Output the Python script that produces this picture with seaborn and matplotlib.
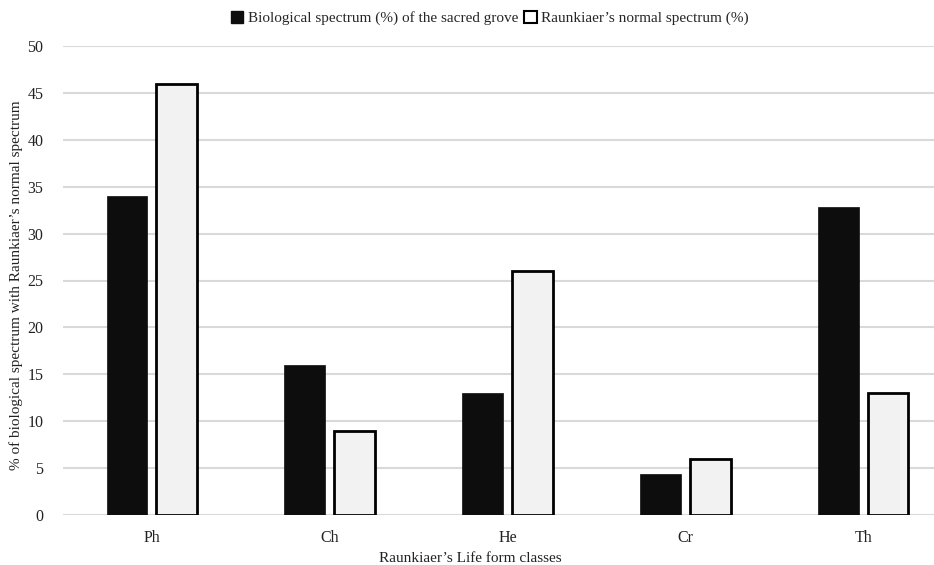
import matplotlib
matplotlib.use("Agg")
import pandas as pd
from matplotlib import pyplot as plt
from matplotlib.patches import Patch
import seaborn as sns

classes = ["Ph", "Ch", "He", "Cr", "Th"]
grove = [34.0, 16.0, 13.0, 4.4, 32.8]
normal = [46.0, 9.0, 26.0, 6.0, 13.0]
series = ["Biological spectrum (%) of the sacred grove", "Raunkiaer\u2019s normal spectrum (%)"]
yticks = [0, 5, 10, 15, 20, 25, 30, 35, 40, 45, 50]

df = pd.DataFrame({
    "cls": classes * 2,
    "val": grove + normal,
    "series": [series[0]] * len(classes) + [series[1]] * len(classes),
})

sns.set_style("white")
plt.rcParams["font.family"] = ["Liberation Serif", "DejaVu Serif"]

fig = plt.figure(figsize=(9.34, 5.65), dpi=100)
ax = fig.add_axes([63 / 934, 50 / 565, (952 - 63) / 934, (515 - 46) / 565])

sns.barplot(data=df, x="cls", y="val", hue="series", order=classes, hue_order=series,
            palette=["#0d0d0d", "#f2f2f2"], width=0.56, gap=0.18, ax=ax, legend=False)

# black edge on the light bars only
for patch in ax.containers[1]:
    patch.set_edgecolor("black")
    patch.set_linewidth(2)
for patch in ax.containers[0]:
    patch.set_edgecolor("#0d0d0d")
    patch.set_linewidth(0.5)

ax.set_ylim(0, 50)
ax.set_yticks(yticks)
ax.set_xlim(-0.5, len(classes) - 0.5)
ax.yaxis.grid(True, color="#d9d9d9", linewidth=1.5)
ax.set_axisbelow(True)
for s in ax.spines.values():
    s.set_visible(False)
ax.tick_params(axis="both", length=0, labelsize=11.5, colors="#222222")
ax.tick_params(axis="y", pad=14)
ax.tick_params(axis="x", pad=11)

ax.set_xlabel("")
ax.set_ylabel("")
fig.text(0.0175, (565 - 285) / 565, "% of biological spectrum with Raunkiaer\u2019s normal spectrum",
         rotation=90, ha="center", va="center", fontsize=11, color="#222222")
fig.text(470 / 934, 1 - 558 / 565, "Raunkiaer\u2019s Life form classes",
         ha="center", va="center", fontsize=11, color="#222222")

handles = [Patch(facecolor="#0d0d0d", edgecolor="#0d0d0d"),
           Patch(facecolor="white", edgecolor="black", linewidth=1.5)]
fig.legend(handles, series, loc="center", bbox_to_anchor=(490 / 934, 1 - 18 / 565),
           ncol=2, frameon=False, fontsize=11, handlelength=0.8, handleheight=0.8,
           handletextpad=0.3, columnspacing=0.4)

fig.savefig("out.png", dpi=100)
